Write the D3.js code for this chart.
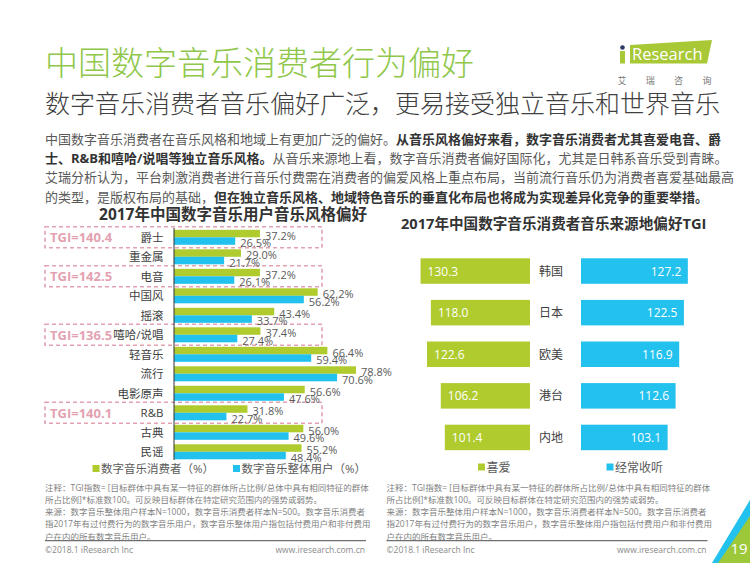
<!DOCTYPE html>
<html><head><meta charset="utf-8">
<script src="https://cdn.jsdelivr.net/npm/d3@7"></script>
<style>
html,body{margin:0;padding:0;background:#fff;}
svg{display:block;font-family:'Open Sans','Noto Sans CJK SC',sans-serif;}
</style></head>
<body><svg id="c" width="750" height="563"></svg>
<script>
// ---- data ----
const styleCats = ["爵士","重金属","电音","中国风","摇滚","嘻哈/说唱","轻音乐","流行","电影原声","R&B","古典","民谣"];
const consumerPct = [37.2,29.0,37.2,62.2,43.4,37.4,66.4,78.8,56.6,31.8,56.0,55.2];
const overallPct  = [26.5,21.7,26.1,56.2,33.7,27.4,59.4,70.6,47.6,22.7,49.6,48.4];
const tgiCats = ["爵士","电音","嘻哈/说唱","R&B"];
const tgiValues = [140.4,142.5,136.5,140.1];
const leftSeries = ["数字音乐消费者（%）","数字音乐整体用户（%）"];

const regions = ["韩国","日本","欧美","港台","内地"];
const likeTGI   = [130.3,118.0,122.6,106.2,101.4];
const listenTGI = [127.2,122.5,116.9,112.6,103.1];
const rightSeries = ["喜爱","经常收听"];

const GREEN = "#afcb2e", BLUE = "#22c1ee", PINK = "#e3a2b1";
const svg = d3.select("#c");

// ---- header ----
svg.append("text").attr("x",45).attr("y",62).attr("dominant-baseline","central")
  .attr("font-size",33).attr("font-weight",300).attr("fill","#8fc74a").text("中国数字音乐消费者行为偏好");
svg.append("text").attr("x",45).attr("y",103).attr("dominant-baseline","central")
  .attr("font-size",25).attr("font-weight",300).attr("fill","#404040").text("数字音乐消费者音乐偏好广泛，更易接受独立音乐和世界音乐");

// logo
const logo = svg.append("g");
logo.append("polygon").attr("points","630,45 712,40 707,63.5 630,63.5").attr("fill","#a8c836");
logo.append("rect").attr("x",620).attr("y",51).attr("width",5).attr("height",12.5).attr("fill","#a8c836");
logo.append("circle").attr("cx",622.5).attr("cy",47.5).attr("r",2.3).attr("fill","#2b3a67");
logo.append("text").attr("x",632).attr("y",59.5).attr("font-size",16.5).attr("fill","#fff").text("Research");
["艾","瑞","咨","询"].forEach((c,i)=>logo.append("text").attr("x",622+i*28.3).attr("y",80)
  .attr("text-anchor","middle").attr("dominant-baseline","central").attr("font-size",9).attr("fill","#777").text(c));

// paragraph
const para = [
  [["中国数字音乐消费者在音乐风格和地域上有更加广泛的偏好。",0],["从音乐风格偏好来看，数字音乐消费者尤其喜爱电音、爵",1]],
  [["士、R&B和嘻哈/说唱等独立音乐风格。",1],["从音乐来源地上看，数字音乐消费者偏好国际化，尤其是日韩系音乐受到青睐。",0]],
  [["艾瑞分析认为，平台刺激消费者进行音乐付费需在消费者的偏爱风格上重点布局，当前流行音乐仍为消费者喜爱基础最高",0]],
  [["的类型，是版权布局的基础，",0],["但在独立音乐风格、地域特色音乐的垂直化布局也将成为实现差异化竞争的重要举措。",1]]
];
para.forEach((line,i)=>{
  const t = svg.append("text").attr("x",45).attr("y",139+i*19.2).attr("dominant-baseline","central").attr("font-size",13);
  line.forEach(([s,b])=>t.append("tspan").attr("font-weight",b?"bold":"normal").attr("fill",b?"#333":"#595959").text(s));
});

// ---- left chart ----
svg.append("text").attr("x",233).attr("y",213.5).attr("text-anchor","middle").attr("dominant-baseline","central")
  .attr("font-size",15.5).attr("font-weight","bold").attr("fill","#333").text("2017年中国数字音乐用户音乐风格偏好");

const yL = d3.scaleBand().domain(styleCats).range([227.55, 227.55+12*19.5]);
const xL = d3.scaleLinear().domain([0,100]).range([174, 174+231]);
const barH = 7.5;
const gL = svg.append("g");

// dashed TGI boxes
tgiCats.forEach((c,i)=>{
  const cy = yL(c)+yL.bandwidth()/2;
  gL.append("rect").attr("x",45).attr("y",cy-10.5).attr("width",277).attr("height",21)
    .attr("fill","none").attr("stroke",PINK).attr("stroke-width",1.6).attr("stroke-dasharray","4,3");
  gL.append("text").attr("x",50).attr("y",cy).attr("dominant-baseline","central").attr("font-size",13)
    .attr("font-weight","bold").attr("fill",PINK).text("TGI=" + tgiValues[i].toFixed(1));
});

styleCats.forEach((c,i)=>{
  const cy = yL(c)+yL.bandwidth()/2;
  gL.append("rect").attr("x",xL(0)).attr("y",cy-barH).attr("width",xL(consumerPct[i])-xL(0)).attr("height",barH).attr("fill",GREEN);
  gL.append("rect").attr("x",xL(0)).attr("y",cy).attr("width",xL(overallPct[i])-xL(0)).attr("height",barH).attr("fill",BLUE);
  gL.append("text").attr("x",xL(consumerPct[i])+5).attr("y",cy-2.3).attr("dominant-baseline","central")
    .attr("font-size",11).attr("fill","#595959").text(consumerPct[i].toFixed(1)+"%");
  gL.append("text").attr("x",xL(overallPct[i])+5).attr("y",cy+5.2).attr("dominant-baseline","central")
    .attr("font-size",11).attr("fill","#595959").text(overallPct[i].toFixed(1)+"%");
  gL.append("text").attr("x",163.5).attr("y",cy).attr("text-anchor","end").attr("dominant-baseline","central")
    .attr("font-size",11.5).attr("fill","#404040").text(c);
});
gL.append("line").attr("x1",xL(0)).attr("x2",xL(0)).attr("y1",228).attr("y2",460).attr("stroke","#333").attr("stroke-width",1);

// left legend
[[92.5,GREEN],[233,BLUE]].forEach(([x,col],i)=>{
  gL.append("rect").attr("x",x).attr("y",465).attr("width",7).attr("height",7).attr("fill",col);
  gL.append("text").attr("x",x+8.5).attr("y",468.5).attr("dominant-baseline","central").attr("font-size",11.5)
    .attr("fill","#595959").text(leftSeries[i]);
});

// ---- right chart ----
svg.append("text").attr("x",401).attr("y",223).attr("dominant-baseline","central")
  .attr("font-size",14.6).attr("font-weight","bold").attr("fill","#333").text("2017年中国数字音乐消费者音乐来源地偏好TGI");

const yR = d3.scaleBand().domain(regions).range([250.25, 250.25+5*41.6]).paddingInner(0.387).paddingOuter(0.1935);
const sR = d3.scaleLinear().domain([0,150]).range([0,126]);
const gR = svg.append("g");
regions.forEach((r,i)=>{
  const y = yR(r), h = yR.bandwidth();
  const w1 = sR(likeTGI[i]), w2 = sR(listenTGI[i]);
  gR.append("rect").attr("x",530-w1).attr("y",y).attr("width",w1).attr("height",h).attr("fill",GREEN);
  gR.append("rect").attr("x",581).attr("y",y).attr("width",w2).attr("height",h).attr("fill",BLUE);
  gR.append("text").attr("x",530-w1+7).attr("y",y+h/2).attr("dominant-baseline","central")
    .attr("font-size",12).attr("fill","#fff").text(likeTGI[i].toFixed(1));
  gR.append("text").attr("x",581+w2-6.5).attr("y",y+h/2).attr("text-anchor","end").attr("dominant-baseline","central")
    .attr("font-size",12).attr("fill","#fff").text(listenTGI[i].toFixed(1));
  gR.append("text").attr("x",551).attr("y",y+h/2).attr("text-anchor","middle").attr("dominant-baseline","central")
    .attr("font-size",12).attr("fill","#404040").text(r);
});
[[478,GREEN],[606.5,BLUE]].forEach(([x,col],i)=>{
  gR.append("rect").attr("x",x).attr("y",463.5).attr("width",7).attr("height",7).attr("fill",col);
  gR.append("text").attr("x",x+8.5).attr("y",467).attr("dominant-baseline","central").attr("font-size",12)
    .attr("fill","#595959").text(rightSeries[i]);
});

// ---- notes & footer ----
const notes = [
  "注释：TGI指数= [目标群体中具有某一特征的群体所占比例/总体中具有相同特征的群体",
  "所占比例]*标准数100。可反映目标群体在特定研究范围内的强势或弱势。",
  "来源：数字音乐整体用户样本N=1000，数字音乐消费者样本N=500。数字音乐消费者",
  "指2017年有过付费行为的数字音乐用户，数字音乐整体用户指包括付费用户和非付费用",
  "户在内的所有数字音乐用户。"
];
[45,386.5].forEach(x0=>{
  notes.forEach((s,i)=>svg.append("text").attr("x",x0).attr("y",487+i*12.3).attr("dominant-baseline","central")
    .attr("font-size",8.5).attr("fill","#7f7f7f").text(s));
  svg.append("line").attr("x1",x0).attr("x2",x0+321).attr("y1",540.7).attr("y2",540.7).attr("stroke","#6f6f6f").attr("stroke-width",1.3);
  svg.append("text").attr("x",x0).attr("y",549.5).attr("dominant-baseline","central").attr("font-size",8.5).attr("fill","#8a8a8a").text("©2018.1 iResearch Inc");
  svg.append("text").attr("x",x0+320).attr("y",549.5).attr("text-anchor","end").attr("dominant-baseline","central").attr("font-size",8.5).attr("fill","#8a8a8a").text("www.iresearch.com.cn");
});

// page corner
svg.append("polygon").attr("points","750,500 750,563 712,563").attr("fill",BLUE);
svg.append("polygon").attr("points","750,516 750,563 718,563").attr("fill","#9cc83a");
svg.append("text").attr("x",739).attr("y",548).attr("text-anchor","middle").attr("dominant-baseline","central")
  .attr("font-size",15).attr("fill","#fff").text("19");
</script></body></html>
